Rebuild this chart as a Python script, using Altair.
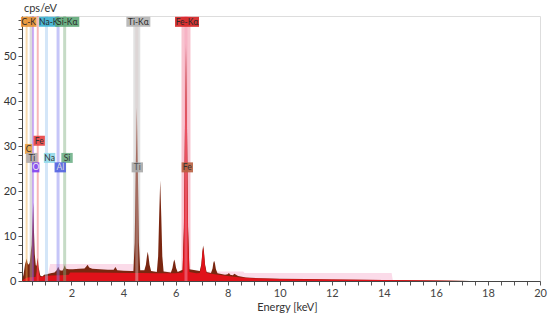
import altair as alt
import pandas as pd

# ---- measured spectrum (keV, cps/eV) ----
energy = [0.10, 0.16, 0.22, 0.26, 0.28, 0.31, 0.36, 0.40, 0.44, 0.47, 0.50, 0.53, 0.56, 0.59,
          0.63, 0.66, 0.70, 0.74, 0.80, 0.88, 0.95, 1.05, 1.20, 1.35, 1.43, 1.49, 1.55, 1.65,
          1.70, 1.74, 1.79, 1.90, 2.05, 2.30, 2.50, 2.56, 2.62, 2.68, 2.80, 3.10, 3.40, 3.62,
          3.69, 3.76, 4.00, 4.30,
          4.38, 4.43, 4.47, 4.51, 4.55, 4.59, 4.64,
          4.80, 4.86, 4.90, 4.93, 4.96, 5.00, 5.06,
          5.28, 5.33, 5.37, 5.41, 5.45, 5.49, 5.54,
          5.82, 5.88, 5.92, 5.95, 5.98, 6.02, 6.08,
          6.27, 6.32, 6.36, 6.40, 6.44, 6.48, 6.53,
          6.93, 6.99, 7.03, 7.06, 7.09, 7.13, 7.19,
          7.36, 7.42, 7.45, 7.48, 7.51, 7.55, 7.61,
          7.90, 8.00, 8.05, 8.10, 8.20, 8.26, 8.32, 8.40, 8.70, 9.20, 10.0, 11.0, 12.0,
          13.0, 14.0, 15.0, 16.0, 17.0, 17.3]
counts = [0.0, 1.5, 3.8, 4.5, 5.0, 4.0, 3.6, 4.2, 6.5, 8.0, 13.0, 17.5, 11.0, 6.0,
          3.5, 3.4, 5.2, 3.0, 1.2, 1.0, 1.4, 1.5, 1.7, 1.9, 2.4, 3.2, 2.4, 2.3,
          2.8, 3.5, 2.7, 2.6, 2.6, 2.7, 2.8, 3.2, 3.6, 3.0, 2.7, 2.6, 2.5, 2.5,
          3.1, 2.4, 2.3, 2.2,
          2.2, 8.5, 25.0, 38.7, 25.0, 8.5, 2.4,
          2.4, 3.6, 5.5, 6.5, 5.5, 3.6, 2.2,
          2.0, 5.5, 14.5, 22.4, 14.5, 5.5, 2.1,
          1.9, 2.9, 4.2, 4.8, 4.2, 2.9, 2.0,
          2.5, 12.0, 34.0, 52.8, 34.0, 12.0, 2.6,
          2.2, 3.8, 6.6, 7.9, 6.6, 3.8, 2.0,
          1.8, 2.8, 4.0, 4.5, 4.0, 2.6, 1.7,
          1.4, 1.5, 1.8, 1.4, 1.3, 1.6, 1.4, 1.1, 0.8, 0.6, 0.5, 0.42, 0.36,
          0.3, 0.25, 0.18, 0.12, 0.05, 0.0]

# ---- fitted Fe + background (red) ----
fit_energy = [0.10, 0.20, 0.30, 0.62, 0.66, 0.70, 0.74, 0.80, 0.90, 1.20, 1.60, 1.90, 1.95,
              2.50, 3.50, 4.30, 4.70, 5.30, 6.00,
              6.27, 6.32, 6.36, 6.40, 6.44, 6.48, 6.53,
              6.80, 6.93, 6.99, 7.03, 7.06, 7.09, 7.13, 7.19,
              7.50, 8.00, 8.50, 9.00, 10.0, 12.0, 14.0, 16.0, 17.0]
fit_counts = [0.0, 0.5, 0.8, 0.9, 2.0, 4.6, 2.0, 0.9, 1.0, 1.2, 1.3, 1.4, 1.9,
              1.9, 1.85, 1.8, 1.8, 1.75, 1.7,
              1.9, 11.0, 33.0, 52.0, 33.0, 11.0, 2.0,
              1.7, 1.8, 3.4, 6.2, 7.5, 6.2, 3.4, 1.8,
              1.5, 1.1, 0.8, 0.6, 0.45, 0.33, 0.22, 0.1, 0.0]

# ---- light pink envelope ----
env_energy = [1.05, 1.18, 4.40, 4.45, 8.60, 8.65, 14.30, 14.35]
env_counts = [0.0, 3.8, 3.8, 2.1, 2.1, 1.8, 1.8, 0.0]

# ---- element lines ----
band_keV = [4.51, 6.40]
band_color = ["#e2e2e2", "#f8c4d0"]
band_width = [7, 9]

line_keV = [0.277, 0.452, 0.525, 0.705, 1.041, 1.486, 1.739, 4.51, 6.40]
line_color = ["#f0b050", "#b0b0b0", "#9a50f0", "#f06060", "#a0c8f0", "#8080f0", "#80b080", "#d8c8c8", "#f7a0b8"]
line_width = [2, 3, 2, 2, 3, 3, 3, 3, 3]

# ---- labels ----
top_text = ["C-K", "Na-K", "Si-Kα", "Ti-Kα", "Fe-Kα"]
top_keV = [0.36, 1.13, 1.84, 4.57, 6.44]
top_fill = ["#e89030", "#3ab0d0", "#5fa878", "#b4b4b4", "#d42020"]
top_y = [57.7, 57.7, 57.7, 57.7, 57.7]

low_text = ["Fe", "C", "Ti", "Na", "Si", "O", "Al", "Ti", "Fe"]
low_keV = [0.76, 0.35, 0.48, 1.16, 1.83, 0.63, 1.57, 4.53, 6.45]
low_y = [31.2, 29.4, 27.4, 27.4, 27.4, 25.3, 25.3, 25.3, 25.3]
low_fill = ["#e84040", "#e8a040", "#b0a8a8", "#90d8e8", "#70b088", "#8040f0", "#5060e0", "#a8a8a8", "#b86040"]
low_tcol = ["#333333", "#333333", "#333333", "#333333", "#333333", "#eeeeee", "#dddddd", "#555555", "#333333"]

PX = 518 / 19.9   # px per keV
PY = 265 / 59.0   # px per cps

spec = pd.DataFrame({"e": energy, "v": counts})
fit = pd.DataFrame({"e": fit_energy, "v": fit_counts})
env = pd.DataFrame({"e": env_energy, "v": env_counts})
bands = pd.DataFrame({"e": band_keV, "c": band_color, "w": band_width})
lines = pd.DataFrame({"e": line_keV, "c": line_color, "w": line_width})


def boxes(texts, xs, ys, fills, tcols):
    rows = []
    for t, x, y, f, tc in zip(texts, xs, ys, fills, tcols):
        hw = (1.5 + 2.1 * len(t)) / PX
        hh = 5.0 / PY
        rows.append({"t": t, "e": x, "v": y, "x0": x - hw, "x1": x + hw,
                     "y0": y - hh, "y1": y + hh, "f": f, "tc": tc})
    return pd.DataFrame(rows)


top = boxes(top_text, top_keV, top_y, top_fill, ["#2a2a2a"] * len(top_text))
low = boxes(low_text, low_keV, low_y, low_fill, low_tcol)

xscale = alt.Scale(domain=[0.1, 20], nice=False, zero=False)
yscale = alt.Scale(domain=[0, 59], nice=False)

xt = [0.5 * i for i in range(1, 41)]
yt = [2 * i for i in range(0, 30)]
FONT = "Lato"

xaxis = alt.Axis(values=xt,
                 labelExpr="datum.value % 2 == 0 ? format(datum.value, 'd') : ''",
                 tickSize=4, tickColor="#555", domainColor="#444", grid=False,
                 labelFontSize=11, labelColor="#444", labelFont=FONT, labelPadding=2,
                 labelFlush=False, labelOverlap=False,
                 title="Energy [keV]", titleFont=FONT, titleFontSize=11,
                 titleFontWeight="normal", titleColor="#333", titlePadding=3, titleX=265)
yaxis = alt.Axis(values=yt,
                 labelExpr="datum.value % 10 == 0 ? format(datum.value, 'd') : ''",
                 tickSize=4, tickColor="#555", domainColor="#444", grid=False,
                 labelFontSize=11, labelColor="#333", labelFont=FONT, labelPadding=2,
                 labelFlush=False, labelOverlap=False,
                 title="cps/eV", titleFont=FONT, titleFontSize=11, titleFontWeight="normal",
                 titleColor="#333", titleAngle=0, titleX=18, titleY=-8,
                 titleAlign="center", titleBaseline="middle")


def X(f):
    return alt.X(f, scale=xscale, axis=xaxis, title="Energy [keV]")


def Y(f):
    return alt.Y(f, scale=yscale, axis=yaxis, title="cps/eV")


env_l = alt.Chart(env).mark_area(color="#fbdbe9").encode(x=X("e:Q"), y=Y("v:Q"))
band_l = alt.Chart(bands).mark_rule().encode(
    x=X("e:Q"), color=alt.Color("c:N", scale=None), size=alt.Size("w:Q", scale=None))
spec_l = alt.Chart(spec).mark_area(color="#7a2610").encode(x=X("e:Q"), y=Y("v:Q"))
fit_l = alt.Chart(fit).mark_area(color="#e0121a").encode(x=X("e:Q"), y=Y("v:Q"))
line_l = alt.Chart(lines).mark_rule(opacity=0.45).encode(
    x=X("e:Q"), color=alt.Color("c:N", scale=None), size=alt.Size("w:Q", scale=None))


def label_layers(df, fs):
    r = alt.Chart(df).mark_rect(opacity=0.9).encode(
        x=X("x0:Q"), x2="x1:Q", y=Y("y0:Q"), y2="y1:Q",
        color=alt.Color("f:N", scale=None))
    t = alt.Chart(df).mark_text(font=FONT, fontSize=fs, baseline="middle", align="center").encode(
        x=X("e:Q"), y=Y("v:Q"), text="t:N", color=alt.Color("tc:N", scale=None))
    return r + t


chart = alt.layer(env_l, band_l, spec_l, fit_l, line_l,
                  label_layers(top, 8.5), label_layers(low, 8.5)).properties(
    width=518, height=265,
    padding={"left": 22, "top": 16, "right": 10, "bottom": 36},
    autosize=alt.AutoSizeParams(type="none"),
).configure_view(stroke="#808080", strokeWidth=1).configure(background="white")

chart.save("out.html", embed_options={"renderer": "svg", "actions": False})
